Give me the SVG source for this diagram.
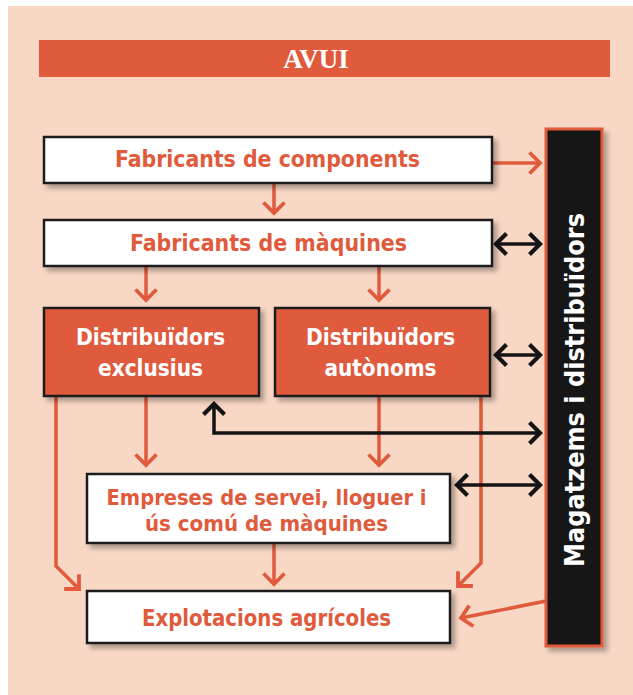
<svg xmlns="http://www.w3.org/2000/svg" width="633" height="695" viewBox="0 0 633 695">
<style>
.bg{fill:#F8D7C5}
.title{fill:#E05A3C}
.wbox{fill:#FFFFFF;stroke:#1A1A1A;stroke-width:2.5}
.obox{fill:#E05A3C;stroke:#1A1A1A;stroke-width:2.5}
.bar{fill:#141414;stroke:#E05A3C;stroke-width:3}
.t{font-family:"DejaVu Sans Condensed","DejaVu Sans",sans-serif;font-stretch:condensed;font-weight:700;font-size:23px;text-anchor:middle}
.to{fill:#E05A3C}
.tw{fill:#FFFFFF}
.oc{fill:none;stroke:#E05A3C;stroke-width:3.5;stroke-linejoin:miter}
.bc{fill:none;stroke:#141414;stroke-width:3.5;stroke-linejoin:miter}
</style>
<defs>
<filter id="sh" x="-10%" y="-10%" width="130%" height="140%">
<feDropShadow dx="4" dy="4" stdDeviation="2.5" flood-color="#000" flood-opacity="0.3"/>
</filter>
<marker id="ao" markerUnits="userSpaceOnUse" viewBox="-16 -14 20 28" markerWidth="20" markerHeight="28" refX="0" refY="0" orient="auto">
<path d="M-10.5,-10.5 L0,0 L-10.5,10.5" fill="none" stroke="#E05A3C" stroke-width="3.8"/>
</marker>
<marker id="ab" markerUnits="userSpaceOnUse" viewBox="-16 -14 20 28" markerWidth="20" markerHeight="28" refX="0" refY="0" orient="auto">
<path d="M-10.5,-10.5 L0,0 L-10.5,10.5" fill="none" stroke="#141414" stroke-width="4.2"/>
</marker>
<marker id="abs" markerUnits="userSpaceOnUse" viewBox="-4 -14 20 28" markerWidth="20" markerHeight="28" refX="0" refY="0" orient="auto">
<path d="M10.5,-10.5 L0,0 L10.5,10.5" fill="none" stroke="#141414" stroke-width="4.2"/>
</marker>
</defs>
<rect class="bg" x="8" y="6" width="625" height="689"/>
<g id="title">
<rect class="title" x="39" y="40" width="571" height="37"/>
<text x="316" y="68" font-family="'Liberation Serif',serif" font-weight="700" font-size="27" fill="#FFFFFF" text-anchor="middle">AVUI</text>
</g>
<g id="connectors">
<path class="oc" d="M492,163 H540" marker-end="url(#ao)"/>
<path class="oc" d="M274,183 V213" marker-end="url(#ao)"/>
<path class="oc" d="M146,266 V300" marker-end="url(#ao)"/>
<path class="oc" d="M379,266 V300" marker-end="url(#ao)"/>
<path class="oc" d="M146,396 V465" marker-end="url(#ao)"/>
<path class="oc" d="M379,396 V465" marker-end="url(#ao)"/>
<path class="oc" d="M56,396 V566 L79,589" marker-end="url(#ao)"/>
<path class="oc" d="M481,396 V563 L458,586" marker-end="url(#ao)"/>
<path class="oc" d="M274,543 V584" marker-end="url(#ao)"/>
<path class="oc" d="M546,601 L461,618" marker-end="url(#ao)"/>
<path class="bc" d="M214,404 V433 H540" marker-start="url(#abs)" marker-end="url(#ab)"/>
<path class="bc" d="M496,244 H540" marker-start="url(#abs)" marker-end="url(#ab)"/>
<path class="bc" d="M496,355 H540" marker-start="url(#abs)" marker-end="url(#ab)"/>
<path class="bc" d="M457,485 H540" marker-start="url(#abs)" marker-end="url(#ab)"/>
</g>
<g id="fabricants-components">
<rect class="wbox" x="44" y="137" width="448" height="46" filter="url(#sh)"/>
<text class="t to" x="267.5" y="167" textLength="305" lengthAdjust="spacingAndGlyphs">Fabricants de components</text>
</g>
<g id="fabricants-maquines">
<rect class="wbox" x="44" y="220" width="448" height="46" filter="url(#sh)"/>
<text class="t to" x="268.5" y="251" textLength="277" lengthAdjust="spacingAndGlyphs">Fabricants de màquines</text>
</g>
<g id="distribuidors-exclusius">
<rect class="obox" x="44" y="308" width="215" height="88" filter="url(#sh)"/>
<text class="t tw" x="150.5" y="345" textLength="149" lengthAdjust="spacingAndGlyphs">Distribuïdors</text>
<text class="t tw" x="150.5" y="376" textLength="105" lengthAdjust="spacingAndGlyphs">exclusius</text>
</g>
<g id="distribuidors-autonoms">
<rect class="obox" x="275" y="308" width="215" height="88" filter="url(#sh)"/>
<text class="t tw" x="380.5" y="345" textLength="149" lengthAdjust="spacingAndGlyphs">Distribuïdors</text>
<text class="t tw" x="380.5" y="376" textLength="112" lengthAdjust="spacingAndGlyphs">autònoms</text>
</g>
<g id="empreses-servei">
<rect class="wbox" x="87" y="474" width="363" height="69" filter="url(#sh)"/>
<text class="t to" x="266.5" y="505" textLength="320" lengthAdjust="spacingAndGlyphs" style="font-size:22px">Empreses de servei, lloguer i</text>
<text class="t to" x="266.5" y="531" textLength="243" lengthAdjust="spacingAndGlyphs" style="font-size:22px">ús comú de màquines</text>
</g>
<g id="explotacions-agricoles">
<rect class="wbox" x="87" y="591" width="363" height="52" filter="url(#sh)"/>
<text class="t to" x="266.5" y="626" textLength="249" lengthAdjust="spacingAndGlyphs">Explotacions agrícoles</text>
</g>
<g id="magatzems-distribuidors">
<rect class="bar" x="546" y="129" width="56" height="517" filter="url(#sh)"/>
<text class="t tw" transform="translate(584,390) rotate(-90)" x="0" y="0" textLength="354" lengthAdjust="spacingAndGlyphs" style="font-size:26px">Magatzems i distribuïdors</text>
</g>
</svg>
